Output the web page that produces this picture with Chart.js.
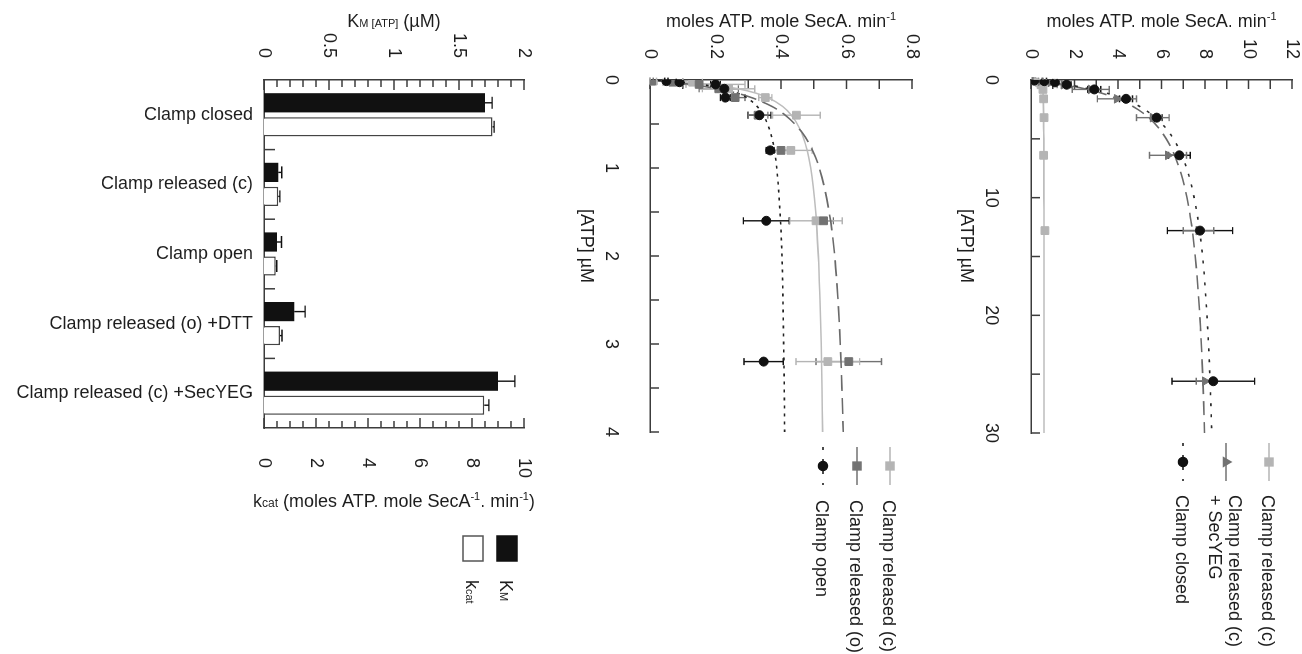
<!DOCTYPE html>
<html>
<head>
<meta charset="utf-8">
<script src="https://cdn.jsdelivr.net/npm/chart.js@4.4.1/dist/chart.umd.min.js"></script>
<style>
  html, body { margin: 0; padding: 0; background: #fff; }
  body { width: 1302px; height: 654px; overflow: hidden; position: relative; }
  /* the figure is laid out upright and then turned a quarter clockwise */
  #fig { position: absolute; left: 0; top: 0; width: 654px; height: 1302px;
         transform-origin: 0 0; transform: translateX(1302px) rotate(90deg); }
  #fig canvas { position: absolute; left: 0; }
</style>
</head>
<body>
<div id="fig">
  <canvas id="panel-a" width="654" height="350" style="top:0"></canvas>
  <canvas id="panel-b" width="654" height="370" style="top:370px"></canvas>
  <canvas id="panel-c" width="654" height="562" style="top:740px"></canvas>
</div>
<script>
const FONT = '"Liberation Sans", Arial, Helvetica, sans-serif';
const INK = '#1e1e1e';
const AXIS = '#3c3c3c';
const LIGHT = '#b4b4b4';
const DARK = '#727272';
const BLACK = '#111111';

// ---- Panel A: clamp closed / released (c) +SecYEG / released (c) ----
const atpA = [0.05, 0.1, 0.2, 0.4, 0.8, 1.6, 3.2, 6.4, 12.8, 25.6];
const closedRateA = [0.15, 0.61, 1.1, 1.64, 2.91, 4.37, 5.78, 6.82, 7.77, 8.38];
const closedErrA = [0.05, 0.1, 0.1, 0.2, 0.3, 0.3, 0.25, 0.5, 1.5, 1.9];
const secyegRateA = [0.1, 0.45, 0.9, 1.5, 2.75, 3.95, 5.6, 6.3, 7.7, 8.0];
const secyegErrA = [0.05, 0.1, 0.2, 0.3, 0.85, 0.9, 0.75, 0.85, 0.7, 0.4];
const atpReleasedA = [0.05, 0.1, 0.2, 0.4, 0.8, 1.6, 3.2, 6.4, 12.8];
const releasedRateA = [0.18, 0.28, 0.38, 0.46, 0.55, 0.58, 0.6, 0.58, 0.64];
const releasedErrA = [0.03, 0.03, 0.03, 0.03, 0.04, 0.04, 0.04, 0.04, 0.04];

const fitAtpA = [0, 0.25, 0.5, 1, 1.5, 2, 3, 4, 5, 6, 8, 10, 12, 15, 18, 21, 24, 27, 30];
const closedFitA = [0, 1.13, 2.0, 3.25, 4.12, 4.75, 5.6, 6.16, 6.55, 6.84, 7.24, 7.5, 7.69, 7.89, 8.02, 8.12, 8.2, 8.26, 8.31];
const secyegFitA = [0, 1.03, 1.84, 3.02, 3.85, 4.45, 5.29, 5.83, 6.22, 6.51, 6.91, 7.17, 7.36, 7.55, 7.69, 7.79, 7.87, 7.93, 7.98];
const releasedFitA = [0, 0.43, 0.5, 0.55, 0.56, 0.57, 0.58, 0.58, 0.59, 0.59, 0.59, 0.59, 0.6, 0.6, 0.6, 0.6, 0.6, 0.6, 0.6];

// ---- Panel B: clamp open / released (o) / released (c) ----
const atpB = [0.0125, 0.025, 0.05, 0.1, 0.2, 0.4, 0.8, 1.6, 3.2];
const openRateB = [0.05, 0.09, 0.2, 0.227, 0.23, 0.334, 0.367, 0.355, 0.347];
const openErrB = [0.005, 0.01, 0.015, 0.02, 0.015, 0.035, 0.012, 0.07, 0.06];
const relORateB = [0.005, 0.07, 0.15, 0.21, 0.26, 0.33, 0.4, 0.53, 0.607];
const relOErrB = [0.005, 0.03, 0.05, 0.06, 0.03, 0.03, 0.04, 0.03, 0.1];
const relCRateB = [0.01, 0.13, 0.2, 0.24, 0.352, 0.447, 0.43, 0.507, 0.543];
const relCErrB = [0.01, 0.03, 0.09, 0.08, 0.02, 0.073, 0.065, 0.08, 0.097];

const fitAtpB = [0, 0.025, 0.05, 0.1, 0.15, 0.2, 0.3, 0.4, 0.6, 0.8, 1, 1.5, 2, 2.5, 3, 3.5, 4];
const openFitB = [0, 0.096, 0.156, 0.227, 0.268, 0.295, 0.327, 0.346, 0.368, 0.38, 0.387, 0.397, 0.403, 0.406, 0.408, 0.41, 0.411];
const relOFitB = [0, 0.069, 0.124, 0.207, 0.266, 0.31, 0.372, 0.413, 0.465, 0.496, 0.517, 0.547, 0.564, 0.574, 0.581, 0.586, 0.59];
const relCFitB = [0, 0.108, 0.18, 0.27, 0.324, 0.36, 0.405, 0.432, 0.463, 0.48, 0.491, 0.506, 0.514, 0.519, 0.523, 0.525, 0.527];

// ---- Panel C: kinetic constants ----
const barCategories = ['Clamp closed', 'Clamp released (c)', 'Clamp open', 'Clamp released (o) +DTT', 'Clamp released (c) +SecYEG'];
const kmValues = [1.70, 0.11, 0.10, 0.233, 1.80];
const kmErr = [0.055, 0.027, 0.035, 0.083, 0.13];
const kcatValues = [8.79, 0.55, 0.45, 0.62, 8.47];
const kcatErr = [0.06, 0.06, 0.04, 0.07, 0.18];

Chart.defaults.font.family = FONT;
Chart.defaults.font.size = 18;
Chart.defaults.color = INK;
Chart.defaults.animation = false;

const isStep = (v, step) => Math.abs(v / step - Math.round(v / step)) < 1e-6;
const fmt = v => String(Math.round(v * 1000) / 1000);
const pts = (xs, ys) => xs.map((x, i) => ({ x: x, y: ys[i] }));

// text made of runs with different sizes (subscripts, superscripts)
function richText(ctx, parts, x, y, rotation, align) {
    ctx.save();
    ctx.translate(x, y);
    ctx.rotate(rotation || 0);
    ctx.fillStyle = INK;
    ctx.textBaseline = 'alphabetic';
    ctx.textAlign = 'left';
    let total = 0;
    parts.forEach(p => {
        ctx.font = p.size + 'px ' + FONT;
        p.w = ctx.measureText(p.text).width;
        total += p.w;
    });
    let cx = align === 'left' ? 0 : -total / 2;
    parts.forEach(p => {
        ctx.font = p.size + 'px ' + FONT;
        ctx.fillText(p.text, cx, 6.5 + (p.dy || 0));
        cx += p.w;
    });
    ctx.restore();
}

// tick marks pointing into the plot
const inwardTicks = {
    id: 'inwardTicks',
    beforeDatasetsDraw(chart, args, opts) {
        const ctx = chart.ctx;
        ctx.save();
        ctx.strokeStyle = AXIS;
        ctx.lineWidth = 1.5;
        (opts.axes || []).forEach(a => {
            const s = chart.scales[a.id];
            if (a.separators) {
                for (let i = 0; i < s.ticks.length - 1; i++) {
                    const p = (s.getPixelForValue(i) + s.getPixelForValue(i + 1)) / 2;
                    ctx.beginPath();
                    ctx.moveTo(p, s.top);
                    ctx.lineTo(p, s.top - a.major);
                    ctx.stroke();
                }
                return;
            }
            s.ticks.forEach(t => {
                const len = t.label !== '' ? a.major : a.minor;
                const p = s.getPixelForValue(t.value);
                ctx.beginPath();
                if (s.position === 'bottom') {
                    ctx.moveTo(p, s.top);
                    ctx.lineTo(p, s.top - len);
                } else if (s.position === 'left') {
                    ctx.moveTo(s.right, p);
                    ctx.lineTo(s.right + len, p);
                } else {
                    ctx.moveTo(s.left, p);
                    ctx.lineTo(s.left - len, p);
                }
                ctx.stroke();
            });
        });
        ctx.restore();
    }
};

// error bars on the rate / constant axis
const errorBars = {
    id: 'errorBars',
    beforeDatasetsDraw(chart, args, opts) {
        const ctx = chart.ctx;
        chart.data.datasets.forEach((ds, di) => {
            if (!ds.errors) return;
            const meta = chart.getDatasetMeta(di);
            const yScale = chart.scales[meta.yAxisID];
            ctx.save();
            ctx.strokeStyle = ds.errorColor || ds.borderColor;
            ctx.lineWidth = 1.4;
            meta.data.forEach((el, i) => {
                const raw = ds.data[i];
                const v = typeof raw === 'object' ? raw.y : raw;
                const e = ds.errors[i];
                const hi = yScale.getPixelForValue(v + e);
                const lo = ds.oneSided ? yScale.getPixelForValue(v) : yScale.getPixelForValue(v - e);
                const cap = opts.cap || 3.5;
                ctx.beginPath();
                ctx.moveTo(el.x, lo);
                ctx.lineTo(el.x, hi);
                ctx.moveTo(el.x - cap, hi);
                ctx.lineTo(el.x + cap, hi);
                if (!ds.oneSided) {
                    ctx.moveTo(el.x - cap, lo);
                    ctx.lineTo(el.x + cap, lo);
                }
                ctx.stroke();
            });
            ctx.restore();
        });
    }
};

// titles with sub/superscripts and the hand-placed legends
const decorations = {
    id: 'decorations',
    afterDraw(chart, args, opts) {
        const ctx = chart.ctx;
        const area = chart.chartArea;
        (opts.titles || []).forEach(t => {
            const y = t.y !== undefined ? t.y : (area.top + area.bottom) / 2;
            richText(ctx, t.parts, t.x, y, t.rotate ? -Math.PI / 2 : 0, t.align);
        });
        (opts.items || []).forEach(it => {
            ctx.save();
            if (it.box) {
                ctx.fillStyle = it.fill;
                ctx.strokeStyle = it.stroke;
                ctx.lineWidth = 1.5;
                ctx.fillRect(it.box[0], it.box[1], it.box[2], it.box[3]);
                ctx.strokeRect(it.box[0], it.box[1], it.box[2], it.box[3]);
            } else {
                ctx.strokeStyle = it.lineColor;
                ctx.lineWidth = 1.5;
                ctx.setLineDash(it.dash || []);
                ctx.beginPath();
                ctx.moveTo(opts.symX - 19, it.y);
                ctx.lineTo(opts.symX + 19, it.y);
                ctx.stroke();
                ctx.setLineDash([]);
                ctx.fillStyle = it.color;
                ctx.strokeStyle = it.color;
                Chart.helpers.drawPoint(ctx, { pointStyle: it.style, radius: it.radius, borderWidth: 1, rotation: 0 }, opts.symX, it.y);
            }
            ctx.restore();
            if (it.parts) {
                richText(ctx, it.parts, it.textX, it.y, 0, 'left');
            } else {
                it.lines.forEach((line, li) => {
                    const ly = it.y + (li - (it.lines.length - 1) / 2) * 20;
                    richText(ctx, [{ text: line, size: 18 }], opts.textX, ly, 0, 'left');
                });
            }
        });
    }
};

function axisBorder() {
    return { display: true, color: AXIS, width: 1.5 };
}

const noGrid = { display: false, drawTicks: false };

// fix an axis' thickness and drop the label overhang padding Chart.js adds
function fixSize(prop, size) {
    return function (s) {
        s[prop] = size;
        s.paddingTop = 0;
        s.paddingBottom = 0;
        s.paddingLeft = 0;
        s.paddingRight = 0;
    };
}

function scatterPanel(id, cfg) {
    return new Chart(document.getElementById(id), {
        type: 'scatter',
        data: { datasets: cfg.datasets },
        plugins: [inwardTicks, errorBars, decorations],
        options: {
            responsive: false,
            layout: { padding: { left: 0, right: cfg.padRight, top: cfg.top, bottom: 0 } },
            plugins: {
                legend: { display: false },
                tooltip: { enabled: false },
                inwardTicks: { axes: [{ id: 'x', major: 9, minor: 9 }, { id: 'y', major: 9, minor: 9 }] },
                errorBars: { cap: 3.5 },
                decorations: {
                    titles: [
                        { parts: [{ text: 'moles ATP. mole SecA. min', size: 18 }, { text: '-1', size: 11, dy: -7 }], x: 20, rotate: true },
                        { parts: [{ text: '[ATP] µM', size: 18 }], x: 246, y: cfg.xTitleY }
                    ],
                    symX: cfg.symX,
                    textX: cfg.textX,
                    items: cfg.legend
                }
            },
            scales: {
                x: {
                    min: 0, max: cfg.xMax,
                    grid: noGrid,
                    border: axisBorder(),
                    ticks: {
                        stepSize: cfg.xStep,
                        autoSkip: false,
                        maxRotation: 0,
                        padding: cfg.xPad,
                        font: { size: 18, lineHeight: 1 },
                        callback: v => isStep(v, cfg.xEvery) ? fmt(v) : ''
                    },
                    afterFit: fixSize('height', cfg.xAxisH)
                },
                y: {
                    min: 0, max: cfg.yMax,
                    grid: noGrid,
                    border: axisBorder(),
                    ticks: {
                        stepSize: cfg.yStep,
                        autoSkip: false,
                        padding: 21,
                        font: { size: 18, lineHeight: 1 },
                        callback: v => isStep(v, cfg.yEvery) ? fmt(v) : ''
                    },
                    afterFit: fixSize('width', 80)
                }
            }
        }
    });
}

function markers(data, errors, style, color, radius, order) {
    return {
        data: data, errors: errors, errorColor: color,
        pointStyle: style, pointRadius: radius, pointBackgroundColor: color,
        pointBorderColor: color, pointBorderWidth: 1, borderColor: color, order: order
    };
}

function fitLine(data, color, dash, order) {
    return {
        data: data, showLine: true, pointRadius: 0, borderColor: color, borderWidth: 1.6,
        borderDash: dash, cubicInterpolationMode: 'monotone', order: order
    };
}

scatterPanel('panel-a', {
    top: 10, xAxisH: 79, padRight: 221, xTitleY: 334, xPad: 31,
    xMax: 30, xStep: 5, xEvery: 10, yMax: 12, yStep: 1, yEvery: 2,
    symX: 462, textX: 495,
    datasets: [
        markers(pts(atpA, closedRateA), closedErrA, 'circle', BLACK, 4.5, 0),
        markers(pts(atpA, secyegRateA), secyegErrA, 'triangle', DARK, 5, 1),
        markers(pts(atpReleasedA, releasedRateA), releasedErrA, 'rect', LIGHT, 5.5, 2),
        fitLine(pts(fitAtpA, releasedFitA), '#bdbdbd', [], 5),
        fitLine(pts(fitAtpA, secyegFitA), '#6a6a6a', [14, 7], 4),
        fitLine(pts(fitAtpA, closedFitA), '#2a2a2a', [3, 8], 3)
    ],
    legend: [
        { y: 33, lines: ['Clamp released (c)'], style: 'rect', radius: 5.5, color: LIGHT, lineColor: LIGHT },
        { y: 76, lines: ['Clamp released (c)', '+ SecYEG'], style: 'triangle', radius: 5, color: DARK, lineColor: DARK },
        { y: 119, lines: ['Clamp closed'], style: 'circle', radius: 4.5, color: BLACK, lineColor: BLACK, dash: [3, 9] }
    ]
});

scatterPanel('panel-b', {
    top: 20, xAxisH: 88, padRight: 222, xTitleY: 344, xPad: 30,
    xMax: 4, xStep: 0.5, xEvery: 1, yMax: 0.8, yStep: 0.1, yEvery: 0.2,
    symX: 466, textX: 500,
    datasets: [
        markers(pts(atpB, openRateB), openErrB, 'circle', BLACK, 4.5, 0),
        markers(pts(atpB, relORateB), relOErrB, 'rect', DARK, 5.5, 1),
        markers(pts(atpB, relCRateB), relCErrB, 'rect', LIGHT, 5.5, 2),
        fitLine(pts(fitAtpB, relCFitB), '#bdbdbd', [], 5),
        fitLine(pts(fitAtpB, relOFitB), '#6a6a6a', [16, 7], 4),
        fitLine(pts(fitAtpB, openFitB), '#222222', [3, 5], 3)
    ],
    legend: [
        { y: 42, lines: ['Clamp released (c)'], style: 'rect', radius: 5.5, color: LIGHT, lineColor: LIGHT },
        { y: 75, lines: ['Clamp released (o)'], style: 'rect', radius: 5.5, color: DARK, lineColor: DARK },
        { y: 109, lines: ['Clamp open'], style: 'circle', radius: 4.5, color: BLACK, lineColor: BLACK, dash: [3, 9] }
    ]
});

new Chart(document.getElementById('panel-c'), {
    type: 'bar',
    data: {
        labels: barCategories,
        datasets: [
            {
                label: 'KM', data: kmValues, errors: kmErr, oneSided: true, yAxisID: 'km',
                backgroundColor: BLACK, borderColor: BLACK, borderWidth: 0,
                categoryPercentage: 0.69, barPercentage: 0.8
            },
            {
                label: 'kcat', data: kcatValues, errors: kcatErr, oneSided: true, yAxisID: 'kcat',
                backgroundColor: '#ffffff', borderColor: '#444444', errorColor: BLACK, borderWidth: 1.5,
                categoryPercentage: 0.69, barPercentage: 0.8
            }
        ]
    },
    plugins: [inwardTicks, errorBars, decorations],
    options: {
        responsive: false,
        layout: { padding: { left: 0, right: 126, top: 38, bottom: 0 } },
        plugins: {
            legend: { display: false },
            tooltip: { enabled: false },
            inwardTicks: {
                axes: [
                    { id: 'x', separators: true, major: 11 },
                    { id: 'km', major: 10, minor: 7 },
                    { id: 'kcat', major: 10, minor: 7 }
                ]
            },
            errorBars: { cap: 6 },
            decorations: {
                titles: [
                    { parts: [{ text: 'K', size: 18 }, { text: 'M [ATP]', size: 11 }, { text: ' (µM)', size: 18 }], x: 20, rotate: true },
                    {
                        parts: [
                            { text: 'k', size: 18 }, { text: 'cat', size: 12 },
                            { text: ' (moles ATP. mole SecA', size: 18 }, { text: '-1', size: 11, dy: -7 },
                            { text: '. min', size: 18 }, { text: '-1', size: 11, dy: -7 }, { text: ')', size: 18 }
                        ],
                        x: 500, rotate: true
                    }
                ],
                items: [
                    { box: [536, 45, 25, 20], fill: BLACK, stroke: BLACK, y: 55, textX: 580,
                      parts: [{ text: 'K', size: 18 }, { text: 'M', size: 11 }] },
                    { box: [536, 79, 25, 20], fill: '#ffffff', stroke: '#555555', y: 89, textX: 580,
                      parts: [{ text: 'k', size: 18 }, { text: 'cat', size: 11 }] }
                ]
            }
        },
        scales: {
            x: {
                grid: noGrid,
                border: axisBorder(),
                ticks: { autoSkip: false, maxRotation: 90, minRotation: 90, padding: 11, font: { size: 18 } },
                afterFit: fixSize('height', 264)
            },
            km: {
                position: 'left', min: 0, max: 2,
                grid: noGrid,
                border: axisBorder(),
                ticks: { stepSize: 0.1, autoSkip: false, padding: 22, font: { size: 18, lineHeight: 1 },
                         callback: v => isStep(v, 0.5) ? fmt(v) : '' },
                afterFit: fixSize('width', 80)
            },
            kcat: {
                position: 'right', min: 0, max: 10,
                grid: noGrid,
                border: axisBorder(),
                ticks: { stepSize: 0.5, autoSkip: false, padding: 30, font: { size: 18, lineHeight: 1 },
                         callback: v => isStep(v, 2) ? fmt(v) : '' },
                afterFit: fixSize('width', 100)
            }
        }
    }
});
</script>
</body>
</html>
